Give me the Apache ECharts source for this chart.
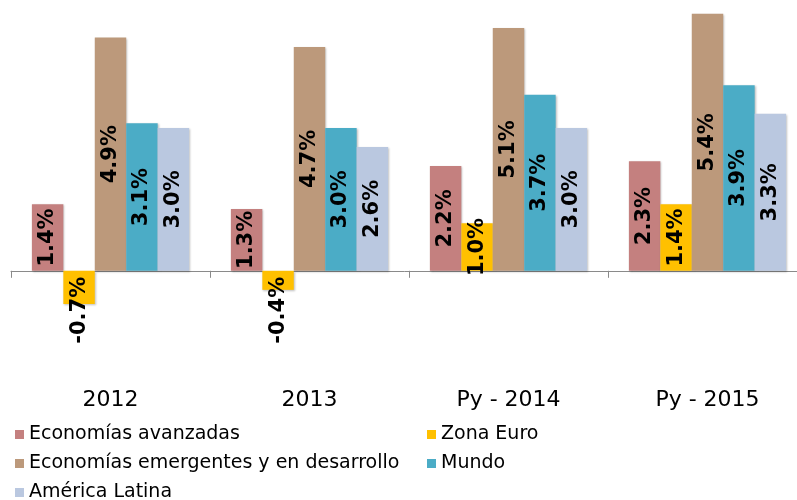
<!DOCTYPE html>
<html>
<head>
<meta charset="utf-8">
<script src="https://cdn.jsdelivr.net/npm/echarts@6/dist/echarts.min.js"></script>
<style>
  html, body { margin: 0; padding: 0; background: #fff; }
  #chart { width: 797px; height: 500px; }
</style>
</head>
<body>
<div id="chart"></div>
<script>
var categories = ['2012', '2013', 'Py - 2014', 'Py - 2015'];
var avanzadas = [1.4, 1.3, 2.2, 2.3];
var zonaEuro = [-0.7, -0.4, 1.0, 1.4];
var emergentes = [4.9, 4.7, 5.1, 5.4];
var mundo = [3.1, 3.0, 3.7, 3.9];
var americaLatina = [3.0, 2.6, 3.0, 3.3];

var dom = document.getElementById('chart');
var myChart = echarts.init(dom);

function labelled(values) {
    return values.map(function (v) {
        if (v < 0) {
            return {
                value: v,
                label: { position: 'insideTop', distance: 6, align: 'right', verticalAlign: 'middle' }
            };
        }
        return { value: v };
    });
}

function makeSeries(name, values, color) {
    return {
        name: name,
        type: 'bar',
        barCategoryGap: '21%',
        barGap: '0%',
        itemStyle: {
            color: color,
            shadowColor: 'rgba(0,0,0,0.25)',
            shadowBlur: 2,
            shadowOffsetX: 1,
            shadowOffsetY: 1
        },
        label: {
            show: true,
            position: 'inside',
            rotate: 90,
            color: '#000',
            fontFamily: 'DejaVu Sans',
            fontWeight: 'bold',
            fontSize: 21,
            formatter: function (p) { return p.value.toFixed(1) + '%'; }
        },
        data: labelled(values)
    };
}

var legendText = { fontFamily: 'DejaVu Sans', fontSize: 19, color: '#000', lineHeight: 19 };

option = {
    backgroundColor: '#fff',
    animation: false,
    grid: { left: 11, width: 796, top: 9, height: 357, outerBoundsMode: 'none', containLabel: false },
    legend: [{
        orient: 'vertical',
        left: 15,
        top: 425,
        height: 90,
        padding: 0,
        itemWidth: 9,
        itemHeight: 9,
        itemGap: 10,
        icon: 'rect',
        textStyle: legendText,
        data: ['Economías avanzadas', 'Economías emergentes y en desarrollo', 'América Latina']
    }, {
        orient: 'vertical',
        left: 427,
        top: 425,
        height: 90,
        padding: 0,
        itemWidth: 9,
        itemHeight: 9,
        itemGap: 10,
        icon: 'rect',
        textStyle: legendText,
        data: ['Zona Euro', 'Mundo']
    }],
    xAxis: {
        type: 'category',
        data: categories,
        axisLine: { onZero: true, lineStyle: { color: '#8a8a8a', width: 1 } },
        axisTick: { show: true, length: 7, lineStyle: { color: '#8a8a8a' } },
        axisLabel: {
            margin: 23,
            fontFamily: 'DejaVu Sans',
            fontSize: 22,
            color: '#000'
        }
    },
    yAxis: {
        type: 'value',
        min: -2,
        max: 5.5,
        show: false,
        splitLine: { show: false }
    },
    series: [
        makeSeries('Economías avanzadas', avanzadas, '#C4807F'),
        makeSeries('Zona Euro', zonaEuro, '#FFC000'),
        makeSeries('Economías emergentes y en desarrollo', emergentes, '#BC997B'),
        makeSeries('Mundo', mundo, '#4BACC6'),
        makeSeries('América Latina', americaLatina, '#BAC8E0')
    ]
};

if (option && typeof option === 'object') {
    myChart.setOption(option, true);
}
</script>
</body>
</html>
